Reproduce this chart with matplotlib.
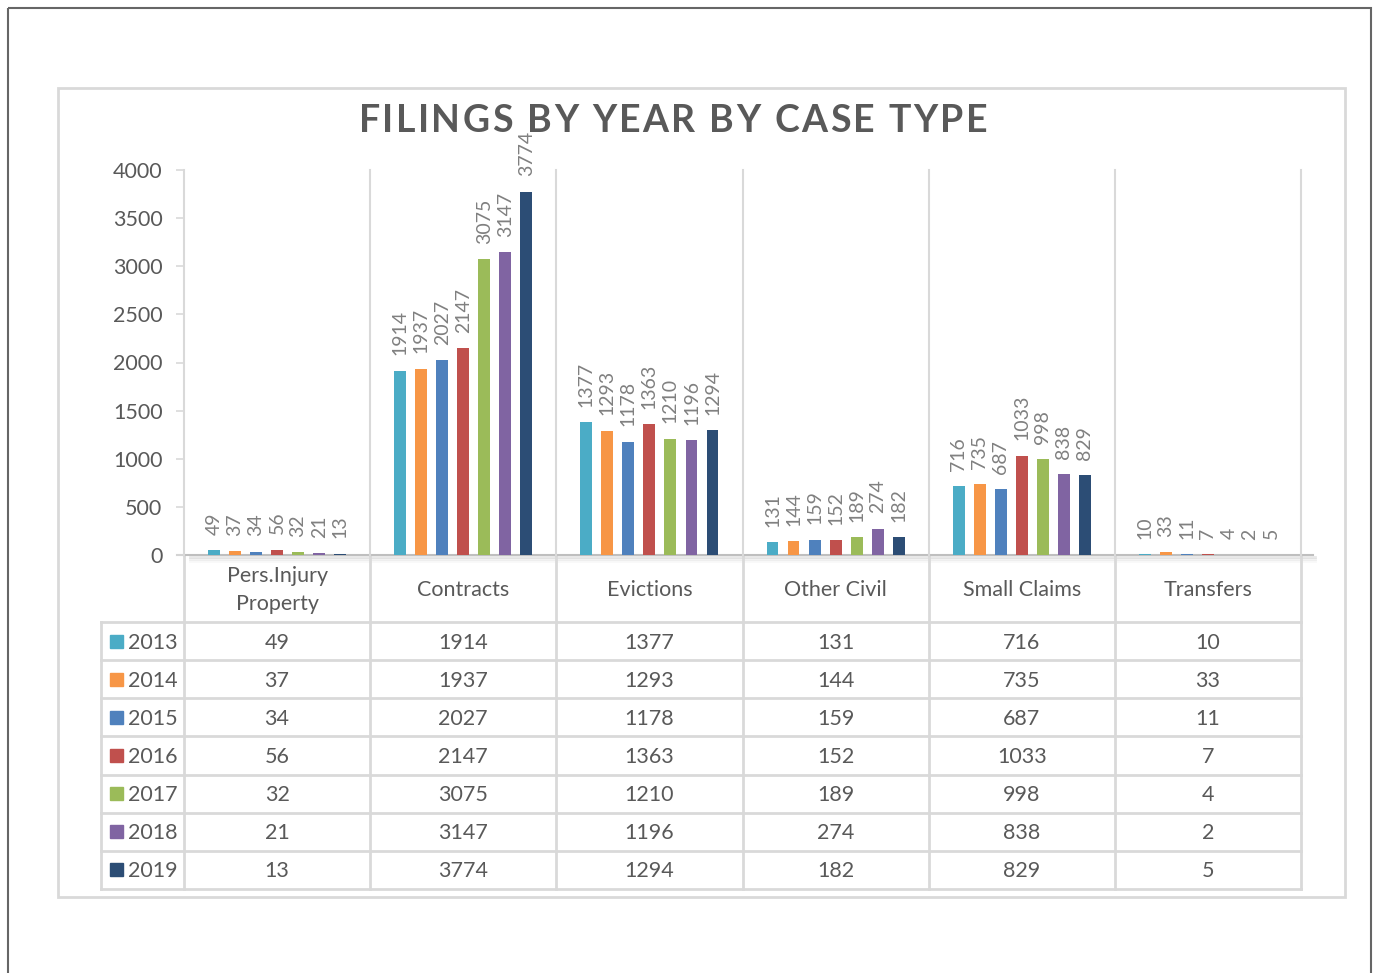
import numpy as np
import matplotlib
matplotlib.use("Agg")
import matplotlib.pyplot as plt
from matplotlib.patches import Rectangle
from matplotlib.transforms import blended_transform_factory

plt.rcParams["font.family"] = ["Lato", "DejaVu Sans"]

categories = ["Pers.Injury\nProperty", "Contracts", "Evictions", "Other Civil", "Small Claims", "Transfers"]
years = ["2013", "2014", "2015", "2016", "2017", "2018", "2019"]

f2013 = [49, 1914, 1377, 131, 716, 10]
f2014 = [37, 1937, 1293, 144, 735, 33]
f2015 = [34, 2027, 1178, 159, 687, 11]
f2016 = [56, 2147, 1363, 152, 1033, 7]
f2017 = [32, 3075, 1210, 189, 998, 4]
f2018 = [21, 3147, 1196, 274, 838, 2]
f2019 = [13, 3774, 1294, 182, 829, 5]
series = [f2013, f2014, f2015, f2016, f2017, f2018, f2019]

colors = ["#4bacc6", "#f79646", "#4f81bd", "#c0504d", "#9bbb59", "#8064a2", "#2c4d75"]

TITLE = "FILINGS BY YEAR BY CASE TYPE"

W, H = 1380, 973
GRID = "#d9d9d9"
TXT = "#595959"

fig = plt.figure(figsize=(W / 100, H / 100), dpi=100)

# overlay in pixel coords for borders / table
ov = fig.add_axes([0, 0, 1, 1])
ov.set_xlim(0, W)
ov.set_ylim(H, 0)
ov.axis("off")

# plot area
x0, x1, ytop, y0 = 184, 1301, 170, 555
ax = fig.add_axes([x0 / W, (H - y0) / H, (x1 - x0) / W, (y0 - ytop) / H])
ax.set_facecolor("none")
ncat = len(categories)
ax.set_xlim(-0.5, ncat - 0.5)
ax.set_ylim(0, 4000)

xs = np.arange(ncat)
step = 0.113
bw = 0.064
for i, (vals, c) in enumerate(zip(series, colors)):
    off = (i - 3) * step
    ax.bar(xs + off, vals, width=bw, color=c, zorder=3)
    for xv, v in zip(xs + off, vals):
        ax.annotate(str(v), (xv, v), xytext=(0, 11), textcoords="offset points",
                    rotation=90, ha="center", va="bottom", fontsize=14,
                    color="#808080", annotation_clip=False)

for k in range(ncat + 1):
    ax.axvline(k - 0.5, color=GRID, lw=1.5, zorder=1, clip_on=False)

ax.set_xticks([])
ax.set_yticks(range(0, 4001, 500))
ax.tick_params(axis="y", length=6, width=1.2, color=GRID, pad=9.5, labelsize=15.5, labelcolor=TXT)
for s in ax.spines.values():
    s.set_visible(False)

# zero line with a soft shadow
for dy, a in [(2, 0.35), (4, 0.2), (6, 0.1)]:
    ov.plot([190, 1315], [y0 + dy, y0 + dy], color="#bfbfbf", lw=2, alpha=a, zorder=2)
ov.plot([177, 1313], [y0, y0], color="#bfbfbf", lw=1.5, zorder=5)

# borders
ov.add_patch(Rectangle((8, 8), 1363, 1000, fill=False, ec="#666666", lw=1.5))
ov.add_patch(Rectangle((58, 88), 1287, 809, fill=False, ec=GRID, lw=2))

# title, letter-spaced
renderer = fig.canvas.get_renderer()
tkw = dict(fontsize=27, fontweight="bold", color=TXT, va="center", ha="left")


def text_w(s):
    t = ov.text(0, 0, s, **tkw)
    w = t.get_window_extent(renderer).width
    t.remove()
    return w


spacing = 2.4
ref_w = text_w("X")
full_w = text_w(TITLE) + spacing * (len(TITLE) - 1)
start = 673 - full_w / 2
for i, ch in enumerate(TITLE):
    xpos = start + (text_w(TITLE[:i] + "X") - ref_w if i else 0) + spacing * i
    ov.text(xpos, 121, ch, **tkw)

# data table
trans = blended_transform_factory(ax.transData, ov.transData)
row_top = 622
row_h = (889 - 622) / len(years)
for k in range(ncat + 1):
    ov.plot([k - 0.5, k - 0.5], [y0, 889], color=GRID, lw=2, transform=trans)
ov.plot([101, 101], [row_top, 889], color=GRID, lw=2)
for r in range(len(years) + 1):
    yy = row_top + r * row_h
    ov.plot([101, 1301], [yy, yy], color=GRID, lw=2)

for k, cat in enumerate(categories):
    ov.text(k, 590.5, cat, transform=trans, ha="center", va="center",
            fontsize=15.5, color=TXT, linespacing=1.5)

for r, (yr, vals, c) in enumerate(zip(years, series, colors)):
    yc = row_top + (r + 0.5) * row_h
    ov.add_patch(Rectangle((110, yc - 6.5), 13, 13, color=c))
    ov.text(128, yc + 1.5, yr, ha="left", va="center", fontsize=15.5, color=TXT)
    for k, v in enumerate(vals):
        ov.text(k, yc + 1.5, str(v), transform=trans, ha="center", va="center",
                fontsize=15.5, color=TXT)

fig.savefig("out.png", dpi=100)
